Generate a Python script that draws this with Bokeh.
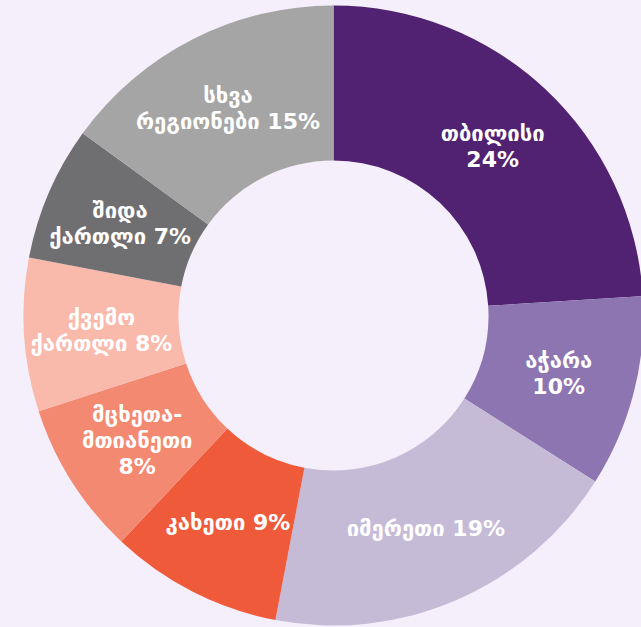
import numpy as np
from bokeh.plotting import figure
from bokeh.models import ColumnDataSource
from bokeh.core.properties import value
from bokeh.embed import file_html
from bokeh.resources import INLINE

# Data
regions = ["თბილისი", "აჭარა", "იმერეთი", "კახეთი", "მცხეთა-მთიანეთი",
           "ქვემო ქართლი", "შიდა ქართლი", "სხვა რეგიონები"]
labels = ["თბილისი\n24%", "აჭარა\n10%", "იმერეთი 19%", "კახეთი 9%",
          "მცხეთა-\nმთიანეთი\n8%", "ქვემო\nქართლი 8%", "შიდა\nქართლი 7%",
          "სხვა\nრეგიონები 15%"]
shares = [24, 10, 19, 9, 8, 8, 7, 15]
colors = ["#512271", "#8d75b1", "#c5bbd7", "#ef5b3a", "#f38970",
          "#f9b9ab", "#6f6e70", "#a5a5a5"]

BG = "#f4effa"
R_OUT = 310
R_IN = 155

frac = np.array(shares, dtype=float) / sum(shares)
cum_end = np.cumsum(frac)
cum_start = cum_end - frac
start_angle = np.pi / 2 - 2 * np.pi * cum_start
end_angle = np.pi / 2 - 2 * np.pi * cum_end
mid = (start_angle + end_angle) / 2
r_lab = (R_IN + R_OUT) / 2

src = ColumnDataSource(dict(
    region=regions, label=labels, color=colors,
    start=start_angle, end=end_angle,
    lx=r_lab * np.cos(mid), ly=r_lab * np.sin(mid),
))

W, H = 641, 627
cx, cy = 333, 315
p = figure(width=W, height=H, output_backend="svg", toolbar_location=None,
           x_range=(-cx, W - cx), y_range=(-(H - cy), cy),
           min_border=0, background_fill_color=BG, border_fill_color=BG,
           outline_line_color=None)
p.axis.visible = False
p.grid.visible = False

p.annular_wedge(x=0, y=0, inner_radius=R_IN, outer_radius=R_OUT,
                start_angle="start", end_angle="end", direction="clock",
                fill_color="color", line_color=None, source=src)

p.text(x="lx", y="ly", text="label", source=src,
       text_align="center", text_baseline="middle",
       text_font=value("DejaVu Sans"), text_font_style="bold",
       text_font_size="22px", text_color="white", text_line_height=1.04)

html = file_html(p, INLINE)
html = html.replace("<head>", "<head><style>html,body{background:%s;}</style>" % BG, 1)
open("out.html", "w").write(html)
